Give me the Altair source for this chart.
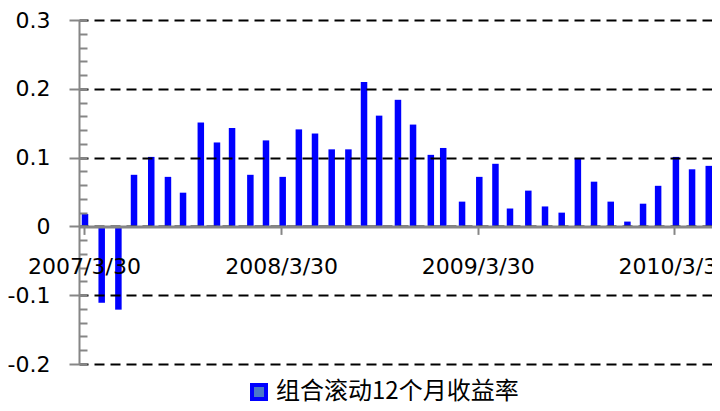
import altair as alt
import pandas as pd

dates = [
    "2007-03-30", "2007-04-30", "2007-05-31", "2007-06-29", "2007-07-31", "2007-08-31",
    "2007-09-28", "2007-10-31", "2007-11-30", "2007-12-28", "2008-01-31", "2008-02-29",
    "2008-03-31", "2008-04-30", "2008-05-30", "2008-06-30", "2008-07-31", "2008-08-29",
    "2008-09-26", "2008-10-31", "2008-11-28", "2008-12-31", "2009-01-23", "2009-02-27",
    "2009-03-31", "2009-04-30", "2009-05-27", "2009-06-30", "2009-07-31", "2009-08-31",
    "2009-09-30", "2009-10-30", "2009-11-30", "2009-12-31", "2010-01-29", "2010-02-26",
    "2010-03-31", "2010-04-30", "2010-05-31",
]
values = [
    0.018, -0.111, -0.121, 0.075, 0.101, 0.072, 0.049, 0.151, 0.122, 0.143,
    0.075, 0.125, 0.072, 0.141, 0.135, 0.112, 0.112, 0.210, 0.161, 0.184,
    0.148, 0.104, 0.114, 0.036, 0.072, 0.091, 0.026, 0.052, 0.029, 0.020,
    0.099, 0.065, 0.036, 0.007, 0.033, 0.059, 0.101, 0.083, 0.088,
]
series_name = "组合滚动12个月收益率"
y_major = [-0.2, -0.1, 0, 0.1, 0.2, 0.3]
y_minor = [round(-0.2 + 0.02 * i, 2) for i in range(26)]
x_tick_years = [2007, 2008, 2009, 2010]

df = pd.DataFrame({"date": dates, "v": values, "s": series_name})

W, H = 633, 344
GRAY = "#868686"

xscale = alt.Scale(
    type="utc",
    domain=[alt.DateTime(year=2007, month=3, date=30, utc=True),
            alt.DateTime(year=2010, month=5, date=29, hours=14, utc=True)],
)
yscale = alt.Scale(domain=[-0.2, 0.3], nice=False, zero=False)

x_axis = alt.Axis(
    orient="bottom", offset=-(H * 0.4), title=None,
    values=[alt.DateTime(year=yy, month=3, date=30, utc=True) for yy in x_tick_years],
    labelExpr="utcFormat(datum.value, '%Y/%-m/%d')",
    labelFont="DejaVu Sans", labelFontSize=22, labelColor="#000000",
    labelPadding=22, labelFlush=False, labelOverlap=False, labelBound=False,
    domainColor=GRAY, domainWidth=3, tickColor=GRAY, tickWidth=2, tickSize=8,
    grid=False, zindex=2,
)
y_axis = alt.Axis(
    orient="left", title=None, values=y_major,
    labelExpr="datum.value < 0 ? '-' + format(-datum.value, '.1~f') : format(datum.value, '.1~f')",
    labelFont="DejaVu Sans", labelFontSize=22, labelColor="#000000", labelPadding=19,
    tickSize=10, tickColor=GRAY, tickWidth=2, domainColor=GRAY, domainWidth=2,
    grid=True, gridColor="#000000", gridDash=[10, 6], gridDashOffset=1, gridWidth=2,
    zindex=1,
)
y_minor_axis = alt.Axis(
    orient="right", offset=-W, title=None, values=y_minor, labels=False,
    domain=False, grid=False, tickSize=8, tickColor=GRAY, tickWidth=2, zindex=1,
)

bars = alt.Chart(df).mark_bar(color="#0000ff", size=6.5, xOffset=1, clip=True).encode(
    x=alt.X("date:T", scale=xscale, axis=x_axis),
    y=alt.Y("v:Q", scale=yscale, axis=y_axis),
)

legend_layer = alt.Chart(df).transform_filter("datum.v > 1").mark_square(
    filled=True, stroke="#0000ff", strokeWidth=4
).encode(
    x=alt.X("date:T", scale=xscale, axis=x_axis),
    y=alt.Y("v:Q", scale=yscale, axis=y_minor_axis),
    fill=alt.Fill(
        "s:N",
        scale=alt.Scale(domain=[series_name], range=["#4a78c8"]),
        legend=alt.Legend(
            orient="none", legendX=168, legendY=360, title=None, padding=0,
            labelFont="Noto Sans CJK SC", labelFontSize=24, labelColor="#000000",
            labelOffset=5, symbolType="square", symbolSize=196, symbolStrokeWidth=4,
            symbolStrokeColor="#0000ff", symbolFillColor="#4a78c8", symbolOpacity=1,
            labelLimit=400,
        ),
    ),
)

chart = alt.layer(bars, legend_layer).resolve_axis(y="independent").properties(
    width=W, height=H,
    autosize=alt.AutoSizeParams(type="none"),
    padding={"left": 71, "top": 12, "right": 0, "bottom": 44},
    background="#ffffff",
).configure_view(stroke=None)

chart.save("out.html", embed_options={"renderer": "svg", "actions": False})
